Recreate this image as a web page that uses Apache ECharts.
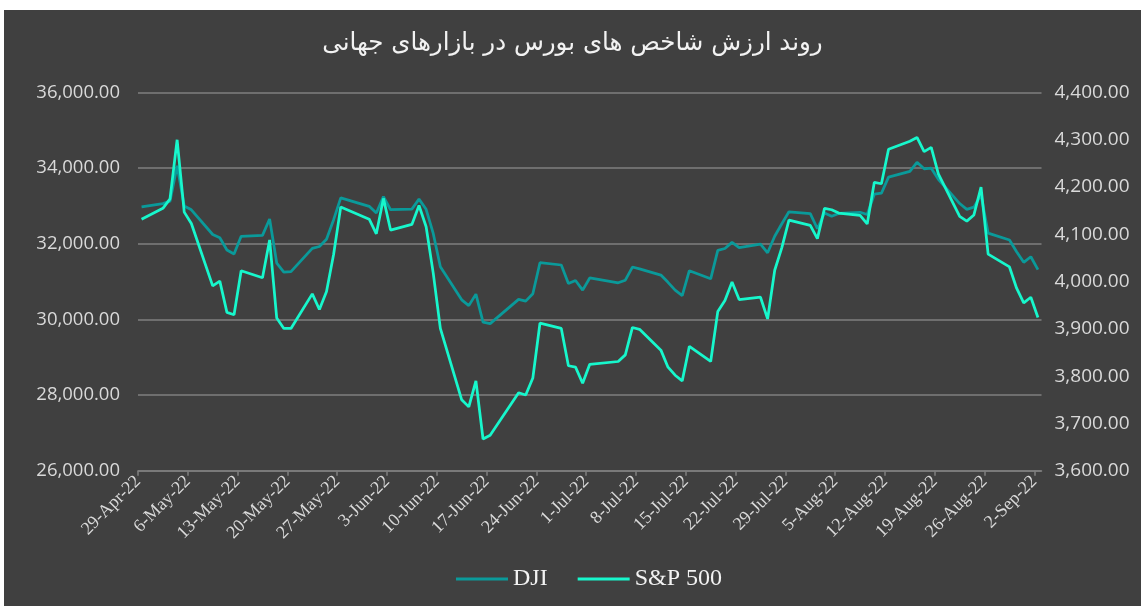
<!DOCTYPE html>
<html>
<head>
    <meta charset="UTF-8">
    <title>روند ارزش شاخص های بورس در بازارهای جهانی</title>
    <script src="https://cdn.jsdelivr.net/npm/echarts@6/dist/echarts.min.js"></script>
    <style>
        body { margin: 0; background: #ffffff; }
        #chart { position: absolute; left: 4px; top: 10px; width: 1137px; height: 596px; background: #404040; }
    </style>
</head>
<body>
<div id="chart"></div>
<script type="text/javascript">

    // trading days shown on the chart
    const tradeDates = [
        '2022-04-29',
        '2022-05-02', '2022-05-03', '2022-05-04', '2022-05-05', '2022-05-06',
        '2022-05-09', '2022-05-10', '2022-05-11', '2022-05-12', '2022-05-13',
        '2022-05-16', '2022-05-17', '2022-05-18', '2022-05-19', '2022-05-20',
        '2022-05-23', '2022-05-24', '2022-05-25', '2022-05-26', '2022-05-27',
        '2022-05-31', '2022-06-01', '2022-06-02', '2022-06-03',
        '2022-06-06', '2022-06-07', '2022-06-08', '2022-06-09', '2022-06-10',
        '2022-06-13', '2022-06-14', '2022-06-15', '2022-06-16', '2022-06-17',
        '2022-06-21', '2022-06-22', '2022-06-23', '2022-06-24',
        '2022-06-27', '2022-06-28', '2022-06-29', '2022-06-30', '2022-07-01',
        '2022-07-05', '2022-07-06', '2022-07-07', '2022-07-08',
        '2022-07-11', '2022-07-12', '2022-07-13', '2022-07-14', '2022-07-15',
        '2022-07-18', '2022-07-19', '2022-07-20', '2022-07-21', '2022-07-22',
        '2022-07-25', '2022-07-26', '2022-07-27', '2022-07-28', '2022-07-29',
        '2022-08-01', '2022-08-02', '2022-08-03', '2022-08-04', '2022-08-05',
        '2022-08-08', '2022-08-09', '2022-08-10', '2022-08-11', '2022-08-12',
        '2022-08-15', '2022-08-16', '2022-08-17', '2022-08-18', '2022-08-19',
        '2022-08-22', '2022-08-23', '2022-08-24', '2022-08-25', '2022-08-26',
        '2022-08-29', '2022-08-30', '2022-08-31', '2022-09-01', '2022-09-02'
    ];

    const djiValues = [
        32977,
        33061, 33128, 34061, 32998, 32899,
        32246, 32161, 31834, 31730, 32197,
        32223, 32655, 31490, 31253, 31262,
        31880, 31929, 32120, 32637, 33213,
        32990, 32813, 33248, 32900,
        32916, 33180, 32911, 32273, 31393,
        30517, 30365, 30669, 29927, 29889,
        30530, 30483, 30677, 31500,
        31439, 30947, 31029, 30775, 31097,
        30968, 31037, 31385, 31338,
        31173, 30981, 30773, 30630, 31289,
        31073, 31827, 31875, 32037, 31900,
        31990, 31762, 32198, 32530, 32845,
        32798, 32397, 32813, 32727, 32803,
        32833, 32775, 33310, 33337, 33761,
        33913, 34153, 33981, 33999, 33707,
        33064, 32910, 32970, 33292, 32283,
        32099, 31791, 31510, 31657, 31318
    ];

    const spValues = [
        4132,
        4155, 4175, 4300, 4147, 4123,
        3991, 4001, 3935, 3930, 4023,
        4008, 4088, 3923, 3901, 3901,
        3974, 3941, 3979, 4058, 4158,
        4132, 4101, 4176, 4109,
        4121, 4161, 4116, 4018, 3901,
        3750, 3735, 3790, 3667, 3675,
        3765, 3760, 3796, 3912,
        3901, 3822, 3819, 3785, 3825,
        3831, 3845, 3903, 3899,
        3855, 3819, 3802, 3790, 3863,
        3831, 3937, 3960, 3999, 3962,
        3967, 3921, 4024, 4072, 4130,
        4119, 4091, 4155, 4152, 4145,
        4140, 4122, 4210, 4207, 4280,
        4297, 4305, 4275, 4284, 4228,
        4138, 4128, 4141, 4200, 4058,
        4031, 3986, 3955, 3967, 3924
    ];

    const tickLabels = [
        '29-Apr-22', '6-May-22', '13-May-22', '20-May-22', '27-May-22',
        '3-Jun-22', '10-Jun-22', '17-Jun-22', '24-Jun-22', '1-Jul-22',
        '8-Jul-22', '15-Jul-22', '22-Jul-22', '29-Jul-22', '5-Aug-22',
        '12-Aug-22', '19-Aug-22', '26-Aug-22', '2-Sep-22'
    ];

    const seriesNames = ['DJI', 'S&P 500'];

    // days since the first date; points sit in the middle of their day slot
    const startMs = Date.parse(tradeDates[0]);
    const dayOf = d => Math.round((Date.parse(d) - startMs) / 86400000);
    const tickDays = tickLabels.map((t, i) => i * 7);

    function fmt2(v) {
        return new Intl.NumberFormat('en-US', { minimumFractionDigits: 2, maximumFractionDigits: 2 }).format(v);
    }

    const chart = echarts.init(document.getElementById('chart'), null, { renderer: 'canvas' });

    const gridColor = '#7f7f7f';
    const labelColor = '#d9d9d9';

    const option = {
        animation: false,
        backgroundColor: '#404040',
        title: {
            text: 'روند ارزش شاخص های بورس در بازارهای جهانی',
            left: 'center',
            top: 16,
            textStyle: {
                color: '#f2f2f2',
                fontSize: 24.5,
                fontWeight: 'normal',
                fontFamily: 'DejaVu Sans'
            }
        },
        legend: {
            top: 552,
            left: 447,
            itemWidth: 52,
            itemHeight: 3,
            itemGap: 30,
            icon: 'rect',
            textStyle: { color: '#f2f2f2', fontSize: 24, fontFamily: 'Liberation Serif' },
            data: seriesNames
        },
        grid: {
            left: 134,
            top: 82.5,
            width: 903.5,
            height: 378.2
        },
        xAxis: {
            type: 'value',
            min: 0,
            max: 127,
            splitLine: { show: false },
            axisLine: { lineStyle: { color: gridColor, width: 1.5 } },
            axisTick: {
                customValues: tickDays,
                length: 5,
                lineStyle: { color: gridColor, width: 1.5 }
            },
            axisLabel: {
                customValues: tickDays,
                rotate: 45,
                margin: 8,
                color: labelColor,
                fontSize: 18,
                fontFamily: 'Liberation Serif, serif',
                formatter: v => tickLabels[Math.round(v / 7)] || ''
            }
        },
        yAxis: [
            {
                type: 'value',
                min: 26000,
                max: 36000,
                interval: 2000,
                axisLine: { show: false },
                axisTick: { show: false },
                splitLine: { lineStyle: { color: gridColor, width: 1.5 } },
                axisLabel: {
                    margin: 18,
                    color: labelColor,
                    fontSize: 18.5,
                    fontFamily: 'Open Sans',
                    formatter: fmt2
                }
            },
            {
                type: 'value',
                min: 3600,
                max: 4400,
                interval: 100,
                axisLine: { show: false },
                axisTick: { show: false },
                splitLine: { show: false },
                axisLabel: {
                    margin: 13,
                    color: labelColor,
                    fontSize: 19,
                    fontFamily: 'Open Sans',
                    formatter: fmt2
                }
            }
        ],
        series: [
            {
                name: seriesNames[0],
                type: 'line',
                yAxisIndex: 0,
                symbol: 'none',
                color: '#0a9a9a',
                lineStyle: { width: 2.75, color: '#0a9a9a' },
                data: tradeDates.map((d, i) => [dayOf(d) + 0.5, djiValues[i]])
            },
            {
                name: seriesNames[1],
                type: 'line',
                yAxisIndex: 1,
                symbol: 'none',
                color: '#17f7cc',
                lineStyle: { width: 2.75, color: '#17f7cc' },
                data: tradeDates.map((d, i) => [dayOf(d) + 0.5, spValues[i]])
            }
        ]
    };

    chart.setOption(option);
</script>
</body>
</html>
